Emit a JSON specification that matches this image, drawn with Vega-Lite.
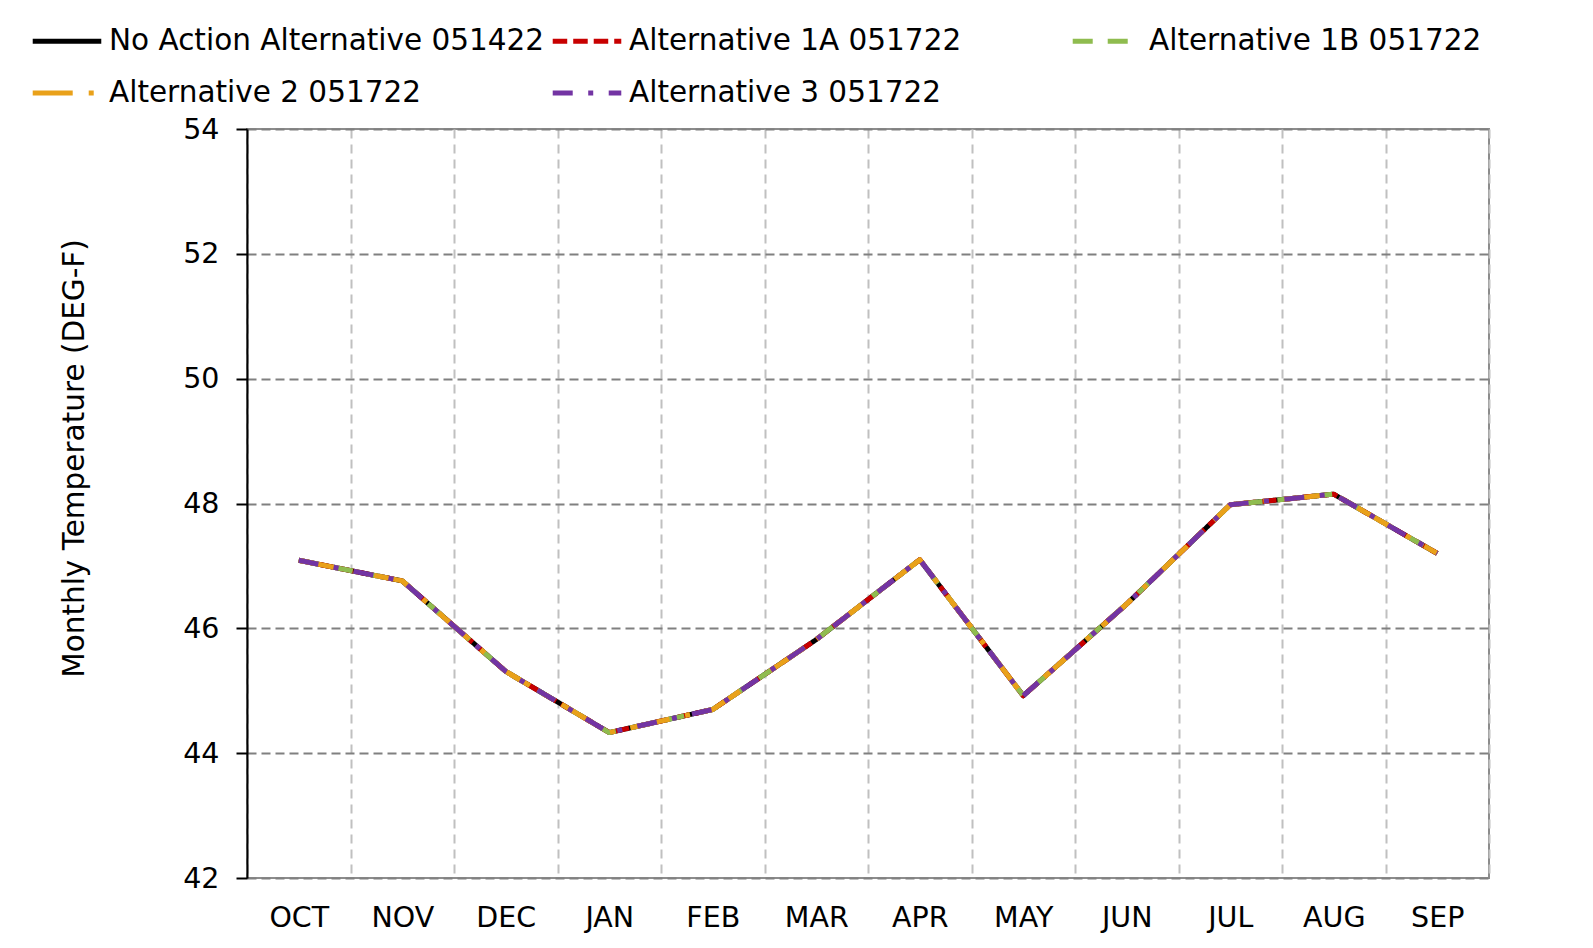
{
  "$schema": "https://vega.github.io/schema/vega-lite/v6.json",
  "width": 1242,
  "height": 749,
  "autosize": {"type": "none"},
  "padding": {"left": 247, "top": 129, "right": 104, "bottom": 70},
  "background": "white",
  "config": {
    "font": "DejaVu Sans",
    "view": {"stroke": "#8c8c8c", "strokeWidth": 2}
  },
  "datasets": {
    "temps": [
      {"series": "No Action Alternative 051422", "month": "OCT", "temp": 47.09},
      {"series": "No Action Alternative 051422", "month": "NOV", "temp": 46.76},
      {"series": "No Action Alternative 051422", "month": "DEC", "temp": 45.31},
      {"series": "No Action Alternative 051422", "month": "JAN", "temp": 44.33},
      {"series": "No Action Alternative 051422", "month": "FEB", "temp": 44.70},
      {"series": "No Action Alternative 051422", "month": "MAR", "temp": 45.82},
      {"series": "No Action Alternative 051422", "month": "APR", "temp": 47.10},
      {"series": "No Action Alternative 051422", "month": "MAY", "temp": 44.92},
      {"series": "No Action Alternative 051422", "month": "JUN", "temp": 46.39},
      {"series": "No Action Alternative 051422", "month": "JUL", "temp": 47.98},
      {"series": "No Action Alternative 051422", "month": "AUG", "temp": 48.15},
      {"series": "No Action Alternative 051422", "month": "SEP", "temp": 47.20},
      {"series": "Alternative 1A 051722", "month": "OCT", "temp": 47.09},
      {"series": "Alternative 1A 051722", "month": "NOV", "temp": 46.76},
      {"series": "Alternative 1A 051722", "month": "DEC", "temp": 45.31},
      {"series": "Alternative 1A 051722", "month": "JAN", "temp": 44.33},
      {"series": "Alternative 1A 051722", "month": "FEB", "temp": 44.70},
      {"series": "Alternative 1A 051722", "month": "MAR", "temp": 45.82},
      {"series": "Alternative 1A 051722", "month": "APR", "temp": 47.10},
      {"series": "Alternative 1A 051722", "month": "MAY", "temp": 44.92},
      {"series": "Alternative 1A 051722", "month": "JUN", "temp": 46.39},
      {"series": "Alternative 1A 051722", "month": "JUL", "temp": 47.98},
      {"series": "Alternative 1A 051722", "month": "AUG", "temp": 48.15},
      {"series": "Alternative 1A 051722", "month": "SEP", "temp": 47.20},
      {"series": "Alternative 1B 051722", "month": "OCT", "temp": 47.09},
      {"series": "Alternative 1B 051722", "month": "NOV", "temp": 46.76},
      {"series": "Alternative 1B 051722", "month": "DEC", "temp": 45.31},
      {"series": "Alternative 1B 051722", "month": "JAN", "temp": 44.33},
      {"series": "Alternative 1B 051722", "month": "FEB", "temp": 44.70},
      {"series": "Alternative 1B 051722", "month": "MAR", "temp": 45.82},
      {"series": "Alternative 1B 051722", "month": "APR", "temp": 47.10},
      {"series": "Alternative 1B 051722", "month": "MAY", "temp": 44.92},
      {"series": "Alternative 1B 051722", "month": "JUN", "temp": 46.39},
      {"series": "Alternative 1B 051722", "month": "JUL", "temp": 47.98},
      {"series": "Alternative 1B 051722", "month": "AUG", "temp": 48.15},
      {"series": "Alternative 1B 051722", "month": "SEP", "temp": 47.20},
      {"series": "Alternative 2 051722", "month": "OCT", "temp": 47.09},
      {"series": "Alternative 2 051722", "month": "NOV", "temp": 46.76},
      {"series": "Alternative 2 051722", "month": "DEC", "temp": 45.31},
      {"series": "Alternative 2 051722", "month": "JAN", "temp": 44.33},
      {"series": "Alternative 2 051722", "month": "FEB", "temp": 44.70},
      {"series": "Alternative 2 051722", "month": "MAR", "temp": 45.82},
      {"series": "Alternative 2 051722", "month": "APR", "temp": 47.10},
      {"series": "Alternative 2 051722", "month": "MAY", "temp": 44.92},
      {"series": "Alternative 2 051722", "month": "JUN", "temp": 46.39},
      {"series": "Alternative 2 051722", "month": "JUL", "temp": 47.98},
      {"series": "Alternative 2 051722", "month": "AUG", "temp": 48.15},
      {"series": "Alternative 2 051722", "month": "SEP", "temp": 47.20},
      {"series": "Alternative 3 051722", "month": "OCT", "temp": 47.09},
      {"series": "Alternative 3 051722", "month": "NOV", "temp": 46.76},
      {"series": "Alternative 3 051722", "month": "DEC", "temp": 45.31},
      {"series": "Alternative 3 051722", "month": "JAN", "temp": 44.33},
      {"series": "Alternative 3 051722", "month": "FEB", "temp": 44.70},
      {"series": "Alternative 3 051722", "month": "MAR", "temp": 45.82},
      {"series": "Alternative 3 051722", "month": "APR", "temp": 47.10},
      {"series": "Alternative 3 051722", "month": "MAY", "temp": 44.92},
      {"series": "Alternative 3 051722", "month": "JUN", "temp": 46.39},
      {"series": "Alternative 3 051722", "month": "JUL", "temp": 47.98},
      {"series": "Alternative 3 051722", "month": "AUG", "temp": 48.15},
      {"series": "Alternative 3 051722", "month": "SEP", "temp": 47.20}
    ]
  },
  "data": {"name": "temps"},
  "mark": {"type": "line", "strokeWidth": 5, "strokeCap": "butt", "strokeJoin": "round"},
  "encoding": {
    "x": {
      "field": "month",
      "type": "ordinal",
      "sort": ["OCT", "NOV", "DEC", "JAN", "FEB", "MAR", "APR", "MAY", "JUN", "JUL", "AUG", "SEP"],
      "scale": {"type": "band", "paddingInner": 0, "paddingOuter": 0},
      "axis": {
        "title": null,
        "tickBand": "extent",
        "ticks": false,
        "domain": false,
        "labelAngle": 0,
        "labelFontSize": 28.5,
        "labelColor": "#000000",
        "labelPadding": 25,
        "grid": true,
        "gridColor": "#c0c0c0",
        "gridDash": [9, 6],
        "gridWidth": 2
      }
    },
    "y": {
      "field": "temp",
      "type": "quantitative",
      "scale": {"domain": [42, 54], "zero": false, "nice": false},
      "axis": {
        "values": [42, 44, 46, 48, 50, 52, 54],
        "title": "Monthly Temperature (DEG-F)",
        "titleFontSize": 29.5,
        "titleFontWeight": "normal",
        "titleColor": "#000000",
        "titlePadding": 93,
        "titleY": 329,
        "labelFontSize": 28.5,
        "labelColor": "#000000",
        "labelPadding": 17,
        "tickSize": 11,
        "tickColor": "#000000",
        "tickWidth": 2,
        "domainColor": "#000000",
        "domainWidth": 2,
        "grid": true,
        "gridColor": "#808080",
        "gridDash": [9, 5],
        "gridWidth": 2
      }
    },
    "color": {
      "field": "series",
      "type": "nominal",
      "scale": {
        "domain": ["No Action Alternative 051422", "Alternative 1A 051722", "Alternative 1B 051722", "Alternative 2 051722", "Alternative 3 051722"],
        "range": ["#000000", "#c80000", "#8fbc4f", "#e9a11a", "#7334a3"]
      },
      "legend": {
        "title": null,
        "orient": "none",
        "legendX": -217,
        "legendY": -125,
        "direction": "horizontal",
        "columns": 3,
        "gridAlign": "all",
        "symbolType": "stroke",
        "symbolSize": 4700,
        "symbolStrokeWidth": 5,
        "labelFontSize": 29.5,
        "labelColor": "#000000",
        "labelLimit": 800,
        "labelOffset": 5,
        "columnPadding": -3,
        "rowPadding": -2,
        "padding": 0
      }
    },
    "strokeDash": {
      "field": "series",
      "type": "nominal",
      "scale": {
        "domain": ["No Action Alternative 051422", "Alternative 1A 051722", "Alternative 1B 051722", "Alternative 2 051722", "Alternative 3 051722"],
        "range": [[1, 0], [14.5, 6], [20, 15], [40, 16, 5, 16], [20, 15.5, 5, 15.5]]
      }
    }
  }
}
